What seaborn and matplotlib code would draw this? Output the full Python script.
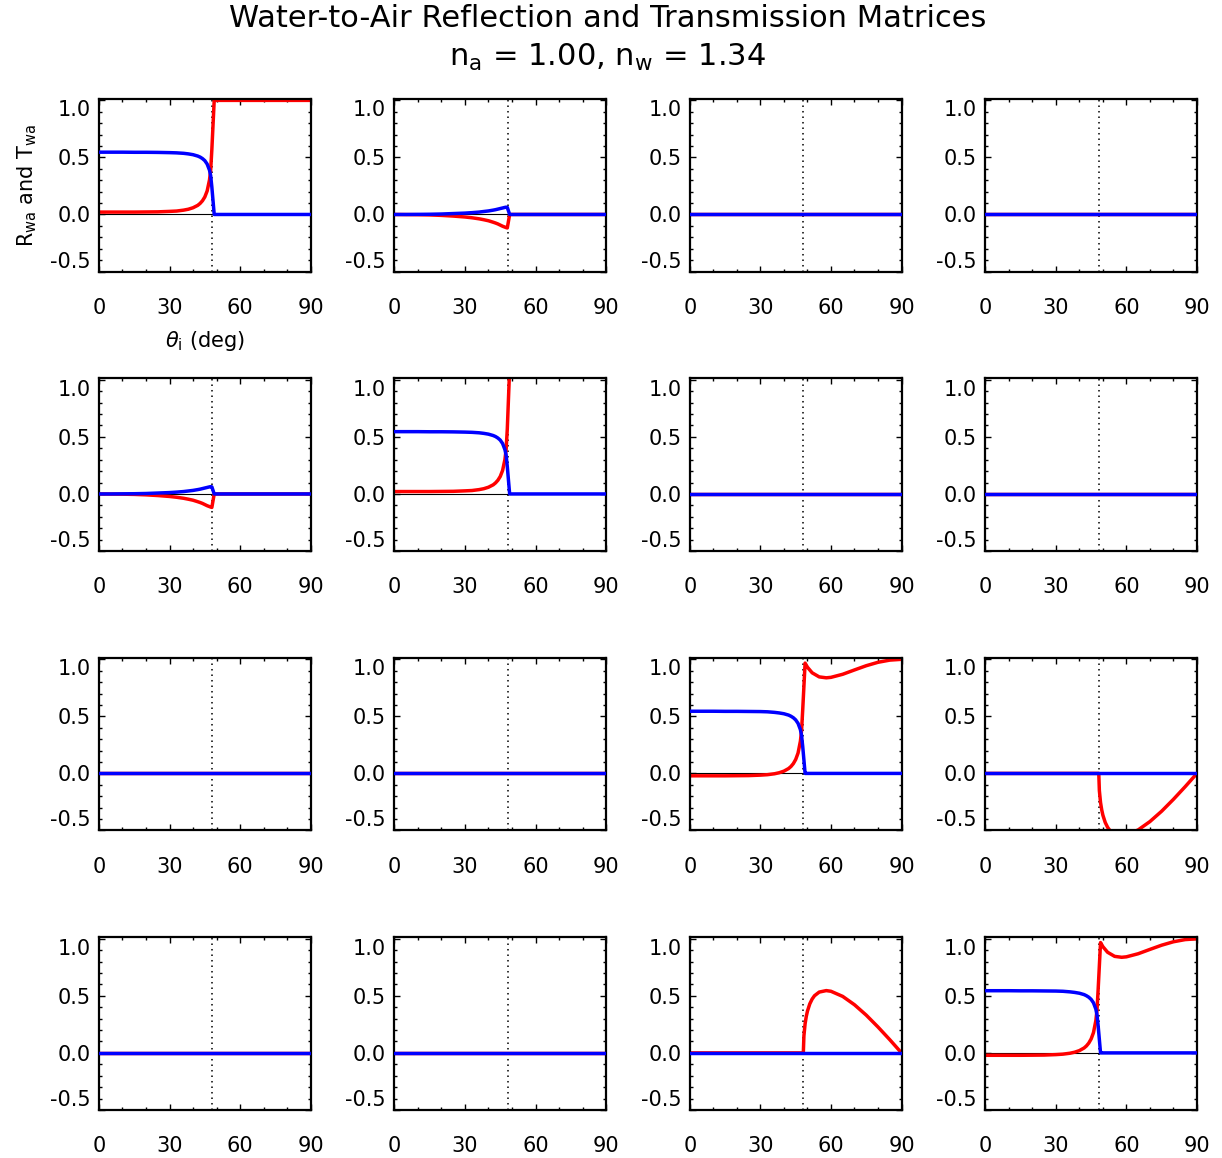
import numpy as np
import pandas as pd
import matplotlib
matplotlib.use('Agg')
import matplotlib.pyplot as plt
from matplotlib.ticker import MultipleLocator
import seaborn as sns

# Datos (angulo de incidencia en grados)
theta_c = 48.2

ang_pre = [0, 5, 10, 15, 20, 25, 30, 33, 36, 38, 40, 42, 43, 44, 45, 46, 47, 47.5, 48, 49, 60, 75, 90]
r11 = [0.021, 0.021, 0.021, 0.021, 0.022, 0.023, 0.027, 0.030, 0.038, 0.046, 0.059, 0.080, 0.097, 0.120,
       0.153, 0.206, 0.303, 0.390, 0.570, 1.0, 1.0, 1.0, 1.0]
r22 = [0.021, 0.021, 0.021, 0.021, 0.022, 0.023, 0.027, 0.030, 0.038, 0.046, 0.059, 0.080, 0.097, 0.120,
       0.153, 0.206, 0.303, 0.390, 0.570, 1.1, 1.1, 1.1, 1.1]
t11 = [0.546, 0.546, 0.546, 0.545, 0.545, 0.544, 0.542, 0.540, 0.536, 0.531, 0.524, 0.512, 0.503, 0.490,
       0.472, 0.442, 0.388, 0.340, 0.240, 0.0, 0.0, 0.0, 0.0]
r12 = [0.0, -0.001, -0.002, -0.004, -0.008, -0.014, -0.022, -0.029, -0.038, -0.046, -0.055, -0.068, -0.075,
       -0.083, -0.093, -0.103, -0.111, -0.115, -0.118, 0.0, 0.0, 0.0, 0.0]
t12 = [0.0, 0.0, 0.001, 0.002, 0.004, 0.008, 0.012, 0.016, 0.021, 0.026, 0.031, 0.038, 0.042, 0.047,
       0.052, 0.057, 0.062, 0.064, 0.062, 0.0, 0.0, 0.0, 0.0]

ang_33 = [0, 5, 10, 15, 20, 25, 30, 33, 36, 38, 40, 42, 43, 44, 45, 46, 47, 47.5, 48, 49, 50, 52, 55,
          58, 60, 65, 70, 75, 80, 85, 90]
r33 = [-0.021, -0.021, -0.021, -0.021, -0.020, -0.019, -0.015, -0.011, -0.003, 0.006, 0.020, 0.043, 0.061,
       0.086, 0.122, 0.178, 0.282, 0.376, 0.562, 0.967, 0.931, 0.882, 0.846, 0.838, 0.842, 0.869, 0.907,
       0.944, 0.974, 0.993, 1.0]
t33 = [0.545, 0.545, 0.545, 0.544, 0.544, 0.543, 0.542, 0.540, 0.535, 0.530, 0.523, 0.511, 0.501, 0.488,
       0.469, 0.439, 0.384, 0.333, 0.234, 0.0, 0.0, 0.0, 0.0, 0.0, 0.0, 0.0, 0.0, 0.0, 0.0, 0.0, 0.0]

ang_34 = [0, 48.25, 48.5, 49, 49.5, 50, 51, 52, 53, 55, 58, 60, 65, 70, 75, 80, 85, 90]
r34 = [0.0, 0.0, -0.150, -0.255, -0.319, -0.366, -0.430, -0.472, -0.501, -0.533, -0.546, -0.540, -0.495,
       -0.422, -0.331, -0.227, -0.116, 0.0]
r43 = [0.0, 0.0, 0.150, 0.255, 0.319, 0.366, 0.430, 0.472, 0.501, 0.533, 0.546, 0.540, 0.495,
       0.422, 0.331, 0.227, 0.116, 0.0]

ang_zero = [0, 90]
zero = [0.0, 0.0]

x_ticks = [0, 30, 60, 90]
y_ticks = [-0.5, 0.0, 0.5, 1.0]
y_ticklabels = ['-0.5', '0.0', '0.5', '1.0']

# Estilo
sns.set_style('ticks')
plt.rcParams['font.family'] = ['DejaVu Sans']
plt.rcParams['mathtext.fontset'] = 'dejavusans'
plt.rcParams['text.color'] = 'black'
plt.rcParams['axes.labelcolor'] = 'black'
plt.rcParams['xtick.color'] = 'black'
plt.rcParams['ytick.color'] = 'black'

fig = plt.figure(figsize=(12.22, 11.58), dpi=100)
axes = fig.subplots(4, 4)
fig.subplots_adjust(left=0.081, right=0.9795, bottom=0.0415, top=0.9145, wspace=0.396, hspace=0.62)

# (fila, columna) -> curvas roja (R) y azul (T)
paneles = {
    (0, 0): (ang_pre, r11, ang_pre, t11),
    (0, 1): (ang_pre, r12, ang_pre, t12),
    (1, 0): (ang_pre, r12, ang_pre, t12),
    (1, 1): (ang_pre, r22, ang_pre, t11),
    (2, 2): (ang_33, r33, ang_33, t33),
    (2, 3): (ang_34, r34, ang_zero, zero),
    (3, 2): (ang_34, r43, ang_zero, zero),
    (3, 3): (ang_33, r33, ang_33, t33),
}

for i in range(4):
    for j in range(4):
        ax = axes[i, j]
        rx, ry, bx, by = paneles.get((i, j), (ang_zero, zero, ang_zero, zero))
        ax.axhline(0, color='black', lw=0.8, zorder=1)
        ax.axvline(theta_c, color='black', lw=1.1, linestyle=(0, (1, 2.6)), zorder=1)
        sns.lineplot(x=rx, y=ry, ax=ax, color='#ff0000', linewidth=2.5, estimator=None, sort=False, zorder=2)
        sns.lineplot(x=bx, y=by, ax=ax, color='#0000ff', linewidth=2.5, estimator=None, sort=False, zorder=3)
        ax.set_xticks(x_ticks)
        ax.set_xticklabels([str(t) for t in x_ticks])
        ax.set_yticks(y_ticks)
        ax.set_yticklabels(y_ticklabels)
        ax.xaxis.set_minor_locator(MultipleLocator(10))
        ax.yaxis.set_minor_locator(MultipleLocator(0.1))
        ax.tick_params(which='both', direction='in', top=True, right=True, color='black', width=1.0)
        ax.tick_params(which='major', length=4.5, labelsize=15)
        ax.tick_params(which='minor', length=2.5)
        ax.tick_params(axis='x', which='major', pad=19)
        ax.tick_params(axis='y', which='major', pad=6)
        for s in ax.spines.values():
            s.set_color('black')
            s.set_linewidth(1.6)
        ax.set_xlabel('')
        ax.set_ylabel('')
        ax.set_xlim(0, 90)
        ax.set_ylim(-0.5, 1.012)

axes[0, 0].set_ylabel(r'R$_\mathregular{wa}$ and T$_\mathregular{wa}$', fontsize=15, labelpad=8)
axes[0, 0].set_xlabel(r'$\theta_\mathregular{i}$ (deg)', fontsize=15, labelpad=8)

fig.text(0.497, 0.984, 'Water-to-Air Reflection and Transmission Matrices', ha='center', va='center', fontsize=22)
fig.text(0.497, 0.950, r'n$_\mathregular{a}$ = 1.00, n$_\mathregular{w}$ = 1.34', ha='center', va='center', fontsize=22)

# etiquetas extremas del eje y dentro del rango, como en IDL
fig.canvas.draw()
for ax in axes.flat:
    ylabs = ax.yaxis.get_majorticklabels()
    ylabs[0].set_verticalalignment('bottom')
    ylabs[-1].set_verticalalignment('top')

fig.savefig('out.png', dpi=100)
